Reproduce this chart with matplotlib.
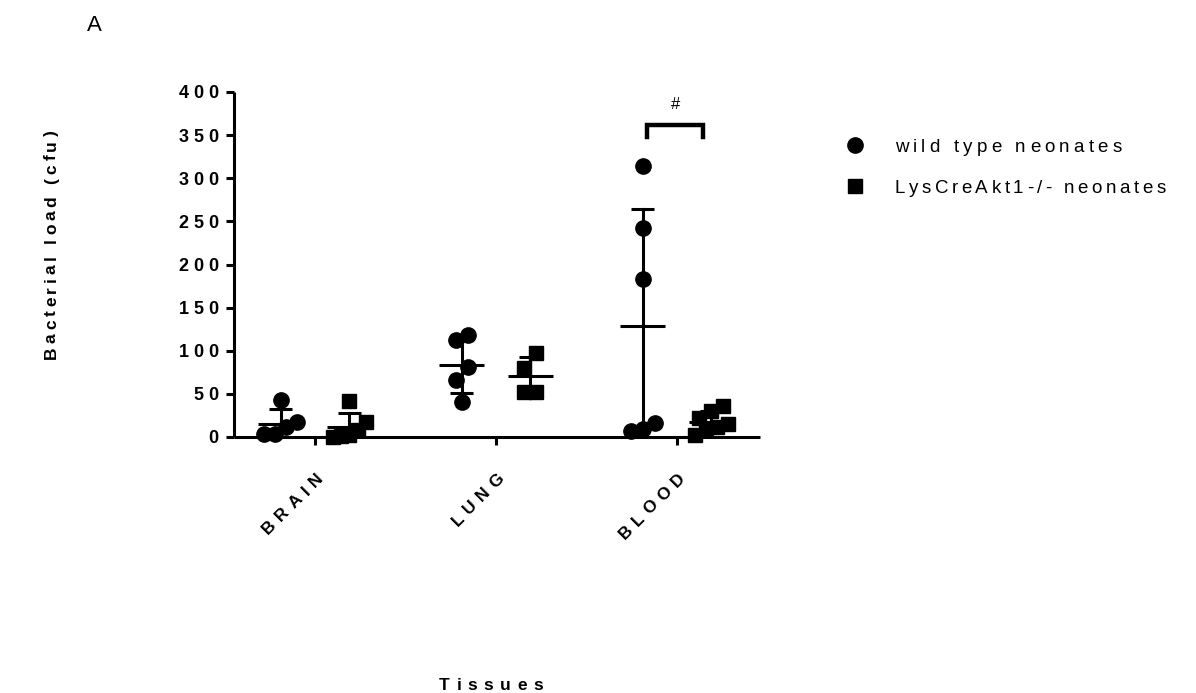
import numpy as np
import matplotlib
matplotlib.use('Agg')
import matplotlib.pyplot as plt
import matplotlib.transforms as mtransforms
from matplotlib.font_manager import FontProperties, findfont, get_font
from matplotlib.lines import Line2D

# 各组织细菌载量 (cfu)
tissues = ['BRAIN', 'LUNG', 'BLOOD']
groups = ['wild type neonates', 'LysCreAkt1-/- neonates']
group_markers = ['o', 's']

wt_brain = [43, 17, 12, 3, 3]
ko_brain = [42, 17, 8, 2, 1, 0]
wt_lung = [112, 118, 81, 66, 41]
ko_lung = [97, 80, 52, 52]
wt_blood = [314, 242, 183, 16, 7, 9]
ko_blood = [36, 30, 22, 15, 12, 8, 2]

y_ticks = [0, 50, 100, 150, 200, 250, 300, 350, 400]
sig_label = '#'

W_PX, H_PX, DPI = 1196, 693, 100
fig = plt.figure(figsize=(W_PX / DPI, H_PX / DPI), dpi=DPI)
ax = fig.add_axes([234 / W_PX, 1 - 437 / H_PX, (760 - 234) / W_PX, (437 - 92) / H_PX])
ax.set_xlim(-0.4475, 2.4586)
ax.set_ylim(0, 400)

# 图像像素坐标 (左上为原点)
T = mtransforms.Affine2D().scale(1, -1).translate(0, H_PX)


def spaced_text(x, y, s, transform, size, weight='normal', gap=4.0, rotation=0,
                ha='left', dx=0.0, dy=0.0, lift=0.0):
    """逐字绘制文字, 字间距 gap (像素)"""
    fp = FontProperties(family='Liberation Sans', size=size, weight=weight)
    font = get_font(findfont(fp))
    font.set_size(size, DPI)
    adv = [font.load_char(ord(c)).linearHoriAdvance / 65536 for c in s]
    total = sum(adv) + gap * (len(s) - 1)
    start = {'left': 0.0, 'center': -total / 2, 'right': -total}[ha]
    a = np.deg2rad(rotation)
    ux, uy = np.cos(a), np.sin(a)
    nx, ny = -uy, ux
    pos = start
    for c, w in zip(s, adv):
        ox = dx + pos * ux + lift * nx
        oy = dy + pos * uy + lift * ny
        tr = mtransforms.offset_copy(transform, fig=fig, x=ox, y=oy, units='dots')
        fig.text(x, y, c, transform=tr, fontproperties=fp, rotation=rotation,
                 rotation_mode='anchor', ha='left', va='baseline', color='black')
        pos += w + gap


def cap(size):
    return 0.716 * size * DPI / 72


def swarm(vals, row_h, step, max_half=0.09):
    # 数值相近的点排成一行, 左右对称展开
    vals = np.asarray(vals, dtype=float)
    order = np.argsort(vals, kind='stable')
    rows = []
    for i in order:
        if rows and vals[i] - vals[rows[-1][0]] < row_h:
            rows[-1].append(i)
        else:
            rows.append([i])
    off = np.zeros(len(vals))
    for row in rows:
        n = len(row)
        st = step if n < 3 else min(step, 2 * max_half / (n - 1))
        for k, i in enumerate(row):
            off[i] = (k - (n - 1) / 2) * st
    return off


data = [(wt_brain, ko_brain), (wt_lung, ko_lung), (wt_blood, ko_blood)]
shift = 0.19
lw = 2.2
for i, pair in enumerate(data):
    for g, vals in enumerate(pair):
        xc = i + (-shift if g == 0 else shift)
        vals = np.asarray(vals, dtype=float)
        xs = xc + swarm(vals, 18, 0.066)
        ms = 11 if g == 0 else 10
        ax.plot(xs, vals, linestyle='none', marker=group_markers[g], markersize=ms,
                color='black', clip_on=False, zorder=3)
        m = vals.mean()
        sd = vals.std(ddof=1)
        ax.plot([xc - 0.125, xc + 0.125], [m, m], color='black', lw=lw,
                solid_capstyle='butt', zorder=4)
        ax.plot([xc, xc], [m - sd, m + sd], color='black', lw=lw, zorder=4)
        for yv in (m - sd, m + sd):
            ax.plot([xc - 0.062, xc + 0.062], [yv, yv], color='black', lw=lw,
                    solid_capstyle='butt', zorder=4)

# 显著性标记
bx0, bx1 = 2 - shift + 0.025, 2 + shift - 0.045
ax.plot([bx0, bx0, bx1, bx1], [348, 362, 362, 348], color='black', lw=3.2,
        clip_on=False, solid_joinstyle='miter')
ax.text((bx0 + bx1) / 2, 380, sig_label, ha='center', va='baseline',
        fontsize=12, family='Liberation Sans')

# 坐标轴样式
for side in ('top', 'right'):
    ax.spines[side].set_visible(False)
for side in ('left', 'bottom'):
    ax.spines[side].set_linewidth(2.2)
    ax.spines[side].set_capstyle('butt')
ax.set_yticks(y_ticks)
ax.set_xticks(range(len(tissues)))
ax.tick_params(axis='y', direction='out', length=5.5, width=2.2, labelleft=False)
ax.tick_params(axis='x', direction='out', length=6, width=2.2, labelbottom=False)

ytr = mtransforms.blended_transform_factory(ax.transAxes, ax.transData)
for v in y_ticks:
    spaced_text(0, v, str(v), ytr, 13, weight='bold', gap=4.6, ha='right',
                dx=-16, lift=-cap(13) / 2)

for i, name in enumerate(tissues):
    spaced_text(i, 0, name, ax.transData, 12.5, weight='bold', gap=6.0,
                rotation=45, ha='right', dx=9, dy=-42)

spaced_text(56, 245, 'Bacterial load (cfu)', T, 12.5, weight='bold', gap=3.8,
            rotation=90, ha='center')
spaced_text(491, 690, 'Tissues', T, 12.5, weight='bold', gap=6.5, ha='center')
spaced_text(87, 31, 'A', T, 16)

# 图例
legend_y = [145, 186]
for g in range(2):
    fig.add_artist(Line2D([855], [H_PX - legend_y[g]], transform=mtransforms.IdentityTransform(),
                          marker=group_markers[g], markersize=11 if g == 0 else 10,
                          color='black', linestyle='none'))
    spaced_text(895, legend_y[g] + cap(13.5) / 2, groups[g], T, 13.5,
                gap=4.2 if g == 0 else 3.5)

fig.savefig('out.png', dpi=DPI)
